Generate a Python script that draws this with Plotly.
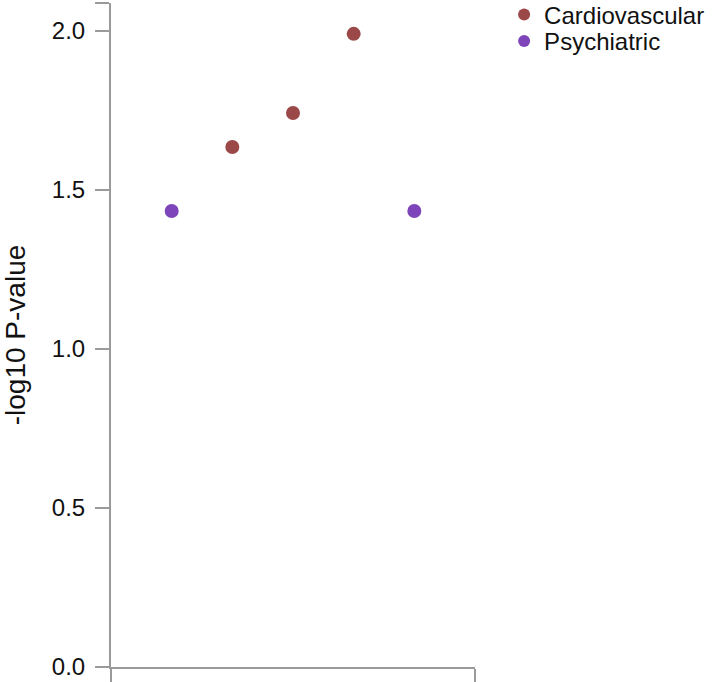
import plotly.graph_objects as go

# points in plotting order (index position on the x axis)
cardio_x = [2, 3, 4]
cardio_y = [1.635, 1.742, 1.991]
psych_x = [1, 5]
psych_y = [1.434, 1.434]

y_ticks = [0.0, 0.5, 1.0, 1.5, 2.0]
y_tick_labels = ["0.0", "0.5", "1.0", "1.5", "2.0"]
y_top = 2.088

AXIS = "#9a9a9a"
FONT = dict(family="Liberation Sans, Arial, Helvetica, sans-serif", size=24, color="#111")

fig = go.Figure()
fig.add_trace(go.Scatter(
    x=cardio_x, y=cardio_y, mode="markers", name="Cardiovascular",
    marker=dict(color="#9b4848", size=14), legend="legend",
))
fig.add_trace(go.Scatter(
    x=psych_x, y=psych_y, mode="markers", name="Psychiatric",
    marker=dict(color="#7d45b9", size=14), legend="legend2",
))

# two legends so the rows can sit closer than plotly's default spacing
_LEGEND = dict(x=1.08, xanchor="left", yanchor="middle",
               font=dict(size=24), itemsizing="constant",
               bgcolor="rgba(0,0,0,0)")
fig.update_layout(
    width=724, height=682,
    # fixed margins: the top legend box pokes above the page and must not
    # push the plot down
    margin=dict(l=111, r=249, t=3, b=15, autoexpand=False),
    plot_bgcolor="white", paper_bgcolor="white",
    font=FONT,
    showlegend=True,
    legend=dict(y=0.982, **_LEGEND),
    legend2=dict(y=0.942, **_LEGEND),
)
fig.update_xaxes(
    range=[0, 6], showgrid=False, zeroline=False,
    showline=True, linecolor=AXIS, linewidth=2,
    tickvals=[0, 6], ticktext=["", ""], ticks="outside",
    ticklen=13, tickwidth=2, tickcolor=AXIS,
)
fig.update_yaxes(
    range=[0, y_top], showgrid=False, zeroline=False,
    showline=True, linecolor=AXIS, linewidth=2,
    tickvals=y_ticks + [y_top], ticktext=y_tick_labels + [""],
    ticks="outside", ticklen=14, tickwidth=2, tickcolor=AXIS,
    ticklabelstandoff=5,
    title=dict(text="-log10 P-value", font=dict(size=28), standoff=19),
)

# drop the default page margin so the figure sits at the window's corner
fig.write_html(
    "out.html",
    config={"displayModeBar": False},
    post_script="document.body.style.margin='0px';",
)
